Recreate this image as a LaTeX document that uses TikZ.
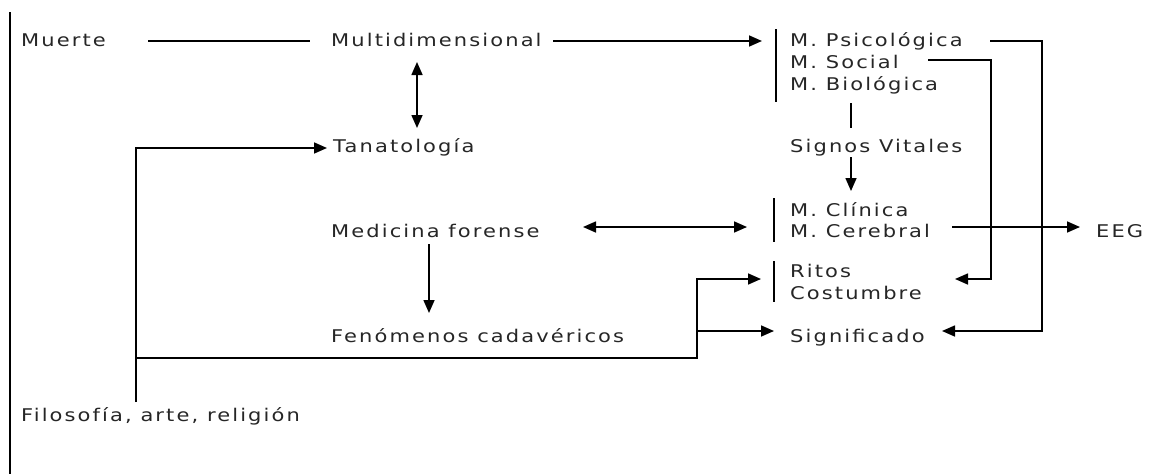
\documentclass[tikz,border=0pt]{standalone}
\usepackage{fontspec}
\setmainfont{DejaVu Sans}[FakeStretch=1.2,LetterSpace=12]
\usetikzlibrary{arrows.meta,calc}
\begin{document}
\begin{tikzpicture}[x=1pt,y=-1pt,
 lbl/.style={anchor=base west,inner sep=0pt,font=\fontsize{17.5}{22}\selectfont,text=black!85},
 ln/.style={line width=1.6pt,black},
 arr/.style={ln,-{Triangle[length=13pt,width=11pt]}},
 darr/.style={ln,{Triangle[length=13pt,width=11pt]}-{Triangle[length=13pt,width=11pt]}}]
\useasboundingbox[fill=white] (0,0) rectangle (1153,474);
\draw[line width=2pt] (9.5,12) -- (9.5,474);
% texts
\node[lbl] (muerte) at (21,46.5) {Muerte};
\node[lbl] (multi) at (331,46.5) {Multidimensional};
\node[lbl] (psi) at (790,46.5) {M. Psicológica};
\node[lbl] (soc) at (790,68) {M. Social};
\node[lbl] (bio) at (790,90) {M. Biológica};
\node[lbl] (tana) at (333,152.5) {Tanatología};
\node[lbl] (signos) at (790,152.5) {Signos Vitales};
\node[lbl] (clin) at (790,216) {M. Clínica};
\node[lbl] (cere) at (790,237) {M. Cerebral};
\node[lbl] (med) at (331,237) {Medicina forense};
\node[lbl] (eeg) at (1096,237) {EEG};
\node[lbl] (ritos) at (790,277) {Ritos};
\node[lbl] (cost) at (790,299) {Costumbre};
\node[lbl] (fen) at (331,342) {Fenómenos cadavéricos};
\node[lbl] (sig) at (790,342) {Significado};
\node[lbl] (filo) at (21,421.5) {Filosofía, arte, religión};
% connector end points
\coordinate (mL) at (148,41);
\coordinate (mR) at (310,41);
\coordinate (aL) at (553,41);
\coordinate (aR) at (762,41);
\coordinate (eL) at (952,227);
\coordinate (eR) at (1080,227);
% bracket bars
\draw[ln] ($(psi.west)+(-14,-12)$) -- ($(bio.west)+(-14,17)$);
\draw[ln] ($(clin.west)+(-16,-11)$) -- ($(cere.west)+(-16,12)$);
\draw[ln] ($(ritos.west)+(-16,-9)$) -- ($(cost.west)+(-16,10)$);
% row 1
\draw[ln] (mL) -- (mR);
\draw[arr] (aL) -- (aR);
\draw[darr] (417,62) -- (417,128);
% right routing
\coordinate (pv) at (1042,41);
\coordinate (sv) at (991,60);
\draw[arr] (990,41) -- (pv) -- (1042,331) -- (942,331);
\draw[arr] (928,60) -- (sv) -- (991,279) -- (955,279);
% biological column
\draw[ln] (851,103) -- (851,128);
\draw[arr] (851,157) -- (851,191);
\draw[arr] (eL) -- (eR);
\draw[darr] (583,227) -- (747,227);
\draw[arr] (429,244) -- (429,313);
% filosofia
\coordinate (fb) at (136,358);
\coordinate (rb) at (697,358);
\draw[arr] (136,402) -- (136,148) -- (327,148);
\draw[arr] (fb) -- (rb) -- (697,279) -- (761,279);
\draw[arr] (697,331) -- (774,331);
\end{tikzpicture}
\end{document}
